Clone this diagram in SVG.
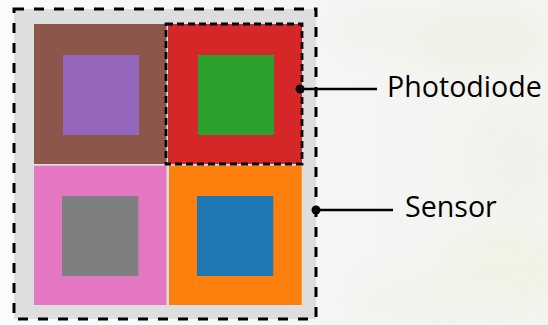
<svg xmlns="http://www.w3.org/2000/svg" width="548" height="325" viewBox="0 0 548 325">
  <defs>
    <filter id="soft" x="-50%" y="-50%" width="200%" height="200%">
      <feGaussianBlur stdDeviation="14"/>
    </filter>
    <linearGradient id="bg" x1="0" y1="0" x2="1" y2="0">
      <stop offset="0" stop-color="#fbfbfb"/>
      <stop offset="0.6" stop-color="#f5f5f4"/>
      <stop offset="1" stop-color="#f3f4ef"/>
    </linearGradient>
    <style>
      .sensor-bg { fill: #dedede; stroke: #000; stroke-width: 3; stroke-dasharray: 10 10; }
      .pd-outline { fill: none; stroke: #000; stroke-width: 2.8; stroke-dasharray: 7 4; }
      .leader { stroke: #000; stroke-width: 2.4; fill: none; }
      .dot { fill: #000; }
      .label { font-family: "Open Sans", "Noto Sans", sans-serif; font-size: 28.6px; fill: #000; }
    </style>
  </defs>

  <!-- washed-out backdrop -->
  <rect x="0" y="0" width="548" height="325" fill="url(#bg)"/>
  <g filter="url(#soft)" opacity="0.25">
    <ellipse cx="470" cy="40" rx="70" ry="30" fill="#dfe6c8"/>
    <ellipse cx="380" cy="30" rx="50" ry="20" fill="#e3e8d6"/>
    <ellipse cx="500" cy="270" rx="60" ry="40" fill="#e6ecc8"/>
    <ellipse cx="420" cy="300" rx="70" ry="25" fill="#eaeed9"/>
    <ellipse cx="510" cy="160" rx="40" ry="50" fill="#e4e8d8"/>
  </g>

  <!-- sensor frame -->
  <g id="sensor">
    <rect class="sensor-bg" x="14" y="9" width="302" height="310"/>
  </g>

  <!-- pixel cells: outer colour with inner square -->
  <g id="cell-top-left">
    <rect x="34" y="24" width="132.5" height="140" fill="#8c564b"/>
    <rect x="63" y="55" width="76" height="80" fill="#9467bd"/>
  </g>
  <g id="cell-top-right">
    <rect x="168" y="24" width="134" height="140" fill="#d62728"/>
    <rect x="198" y="55" width="76" height="80" fill="#2ca02c"/>
  </g>
  <g id="cell-bottom-left">
    <rect x="34" y="165.7" width="132.5" height="139.3" fill="#e377c2"/>
    <rect x="62" y="196" width="76.3" height="80" fill="#7f7f7f"/>
  </g>
  <g id="cell-bottom-right">
    <rect x="169" y="165.7" width="132.7" height="139.3" fill="#ff7f0e"/>
    <rect x="197" y="196" width="76.3" height="80" fill="#1f77b4"/>
  </g>

  <!-- photodiode highlight -->
  <g id="photodiode">
    <rect class="pd-outline" x="166" y="24" width="136" height="140"/>
  </g>

  <!-- leader lines -->
  <g id="connectors">
    <line class="leader" x1="300" y1="89" x2="377" y2="89"/>
    <circle class="dot" cx="300" cy="89" r="4.5"/>
    <line class="leader" x1="316" y1="210" x2="393" y2="210"/>
    <circle class="dot" cx="316" cy="210" r="4.5"/>
  </g>

  <g id="labels">
    <text class="label" x="387" y="97">Photodiode</text>
    <text class="label" x="405" y="217">Sensor</text>
  </g>
</svg>
